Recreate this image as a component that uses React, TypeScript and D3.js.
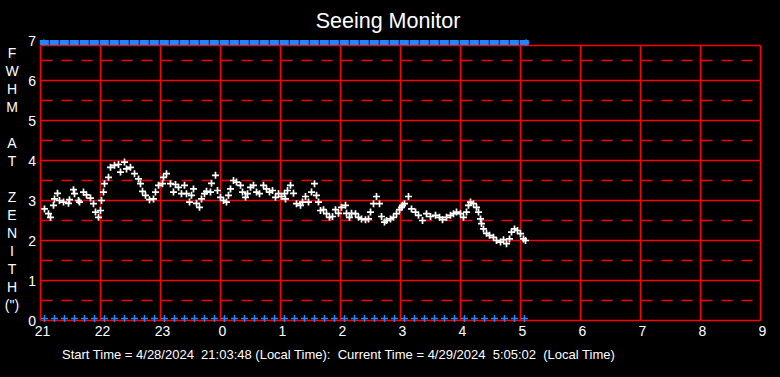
import React from "react";
import * as d3 from "d3";

// Minutes after 21:00 (local) of each seeing sample
const sampleMinutes = [
  4, 8, 10, 13, 14, 17, 19, 23, 28, 29, 33, 34, 38, 39, 43, 46, 50, 53, 55, 58,
  60, 61, 63, 64, 68, 70, 74, 78, 80, 84, 86, 90, 94, 98, 100, 102, 105, 109, 113, 115,
  118, 122, 123, 126, 130, 133, 135, 138, 141, 144, 146, 149, 151, 153, 156, 159, 161, 164, 166, 170,
  171, 175, 177, 180, 183, 186, 188, 190, 193, 196, 200, 202, 205, 207, 210, 213, 216, 219, 223, 226,
  229, 232, 235, 238, 241, 244, 245, 247, 250, 253, 256, 260, 262, 265, 268, 271, 274, 276, 278, 280,
  283, 286, 289, 292, 295, 298, 301, 305, 306, 309, 311, 315, 318, 321, 325, 328, 330, 333, 336, 339,
  341, 344, 346, 350, 353, 356, 359, 361, 362, 364, 368, 371, 375, 378, 382, 386, 390, 395, 399, 402,
  406, 410, 413, 416, 420, 423, 426, 428, 430, 433, 436, 438, 440, 441, 443, 446, 449, 453, 456, 460,
  463, 466, 469, 471, 474, 477, 480, 483, 485,
];
// FWHM at zenith (arcsec)
const fwhmValues = [
  2.79, 2.67, 2.58, 2.88, 3.04, 3.18, 3.0, 2.96, 2.93, 3.02, 3.27, 3.17, 3.0, 2.96, 3.21, 3.14, 3.06, 2.92, 2.71, 2.58,
  2.75, 3.0, 3.21, 3.42, 3.58, 3.83, 3.88, 3.9, 3.71, 3.96, 3.79, 3.83, 3.67, 3.54, 3.42, 3.23, 3.13, 3.02, 3.04, 3.21,
  3.38, 3.42, 3.58, 3.67, 3.42, 3.21, 3.4, 3.33, 3.17, 3.38, 3.17, 2.96, 3.13, 3.29, 2.93, 2.83, 3.04, 3.17, 3.23, 3.21,
  3.43, 3.63, 3.25, 3.08, 3.0, 2.96, 3.13, 3.29, 3.5, 3.46, 3.38, 3.21, 3.08, 3.17, 3.33, 3.38, 3.21, 3.17, 3.38, 3.29,
  3.21, 3.25, 3.08, 3.17, 3.1, 3.17, 3.04, 3.25, 3.38, 3.18, 2.92, 2.88, 2.96, 3.1, 2.96, 3.21, 3.42, 3.13, 2.96, 2.75,
  2.77, 2.67, 2.58, 2.6, 2.77, 2.68, 2.83, 2.88, 2.68, 2.58, 2.68, 2.67, 2.58, 2.54, 2.52, 2.54, 2.71, 2.92, 3.1, 2.92,
  2.6, 2.46, 2.5, 2.54, 2.58, 2.67, 2.77, 2.83, 2.88, 2.92, 3.1, 2.79, 2.71, 2.63, 2.5, 2.67, 2.6, 2.63, 2.58, 2.52,
  2.58, 2.63, 2.67, 2.71, 2.67, 2.58, 2.71, 2.88, 2.96, 2.92, 2.83, 2.71, 2.54, 2.42, 2.29, 2.18, 2.13, 2.08, 2.0, 1.96,
  2.02, 1.92, 2.04, 2.21, 2.29, 2.25, 2.17, 2.04, 2.0,
];

const hourTicks = [21, 22, 23, 0, 1, 2, 3, 4, 5, 6, 7, 8, 9];
const valueTicks = [0, 1, 2, 3, 4, 5, 6, 7];
const axisLetters = ["F", "W", "H", "M", "", "A", "T", "", "Z", "E", "N", "I", "T", "H", "(\")"];
const startMinute = 3 + 48 / 60; // 21:03:48
const endMinute = 8 * 60 + 5 + 2 / 60; // 05:05:02
const titleText = "Seeing Monitor";
const footerText =
  "Start Time = 4/28/2024  21:03:48 (Local Time):  Current Time = 4/29/2024  5:05:02  (Local Time)";

const W = 780;
const H = 377;
const RED = "#ff0000";
const BLUE = "#1e88ff";

export default function App() {
  const x = d3.scaleLinear().domain([0, 720]).range([40.5, 760.5]);
  const y = d3.scaleLinear().domain([0, 7]).range([320.5, 40.5]);
  const plotTop = 45.5;
  const lw = 1.6;

  const markerMinutes = d3.range(startMinute, endMinute + 0.01, 10);
  const halfLines = d3.range(0.5, 7, 1).filter((v) => y(v) > plotTop);
  const font = "'Liberation Sans', Arial, sans-serif";

  return (
    <svg
      width={W}
      height={H}
      style={{ position: "absolute", left: 0, top: 0, background: "#000" }}
    >
      <rect x={0} y={0} width={W} height={H} fill="#000" />
      <text x={388} y={28} fill="#fff" fontFamily={font} fontSize={21.5} textAnchor="middle">
        {titleText}
      </text>

      {/* dashed half-unit lines */}
      {halfLines.map((v) => (
        <line
          key={"h" + v}
          x1={x(0)}
          x2={x(720)}
          y1={y(v)}
          y2={y(v)}
          stroke={RED}
          strokeWidth={lw}
          strokeDasharray="11,9"
          strokeDashoffset={-1}
        />
      ))}
      {/* solid integer lines */}
      {valueTicks
        .filter((v) => y(v) > plotTop)
        .map((v) => (
          <line key={"s" + v} x1={x(0)} x2={x(720)} y1={y(v)} y2={y(v)} stroke={RED} strokeWidth={lw} />
        ))}
      <line x1={x(0)} x2={x(720)} y1={plotTop} y2={plotTop} stroke={RED} strokeWidth={lw} />
      {/* vertical hour lines */}
      {hourTicks.map((h, i) => (
        <line key={"v" + i} x1={x(i * 60)} x2={x(i * 60)} y1={plotTop} y2={y(0)} stroke={RED} strokeWidth={lw} />
      ))}

      {/* y tick labels */}
      {valueTicks.map((v) => (
        <text key={"yl" + v} x={36} y={y(v) + 5} fill="#fff" fontFamily={font} fontSize={14} textAnchor="end">
          {v}
        </text>
      ))}
      {/* x tick labels */}
      {hourTicks.map((h, i) => (
        <text key={"xl" + i} x={x(i * 60) + 2} y={336} fill="#fff" fontFamily={font} fontSize={14} textAnchor="middle">
          {h}
        </text>
      ))}
      {/* vertical axis title */}
      {axisLetters.map((c, i) => (
        <text key={"al" + i} x={12} y={58 + i * 18} fill="#fff" fontFamily={font} fontSize={14} textAnchor="middle">
          {c}
        </text>
      ))}

      {/* top blue status bar */}
      {markerMinutes.map((m, i) => (
        <rect key={"tb" + i} x={x(m) - 4.5} y={40} width={9} height={5} fill={BLUE} />
      ))}
      <path d={`M${x(endMinute) - 3},42.5h7M${x(endMinute) + 0.5},39v7`} stroke={BLUE} strokeWidth={1} />
      <path d={`M${x(startMinute) - 4},42.5h7M${x(startMinute) - 0.5},39v7`} stroke={BLUE} strokeWidth={1} />

      {/* bottom blue markers */}
      {markerMinutes.map((m, i) => (
        <path
          key={"bb" + i}
          d={`M${Math.round(x(m)) - 3},318.5h7M${Math.round(x(m)) + 0.5},315v7`}
          stroke={BLUE}
          strokeWidth={1.5}
        />
      ))}

      {/* white seeing samples */}
      {sampleMinutes.map((m, i) => {
        const cx = x(m);
        const cy = y(fwhmValues[i]);
        return (
          <path
            key={"p" + i}
            d={`M${cx - 3.5},${cy}h7M${cx},${cy - 3.5}v7`}
            stroke="#fff"
            strokeWidth={1.7}
          />
        );
      })}

      <text x={62} y={359} fill="#fff" fontFamily={font} fontSize={13} style={{ whiteSpace: "pre" }}>
        {footerText}
      </text>
    </svg>
  );
}
